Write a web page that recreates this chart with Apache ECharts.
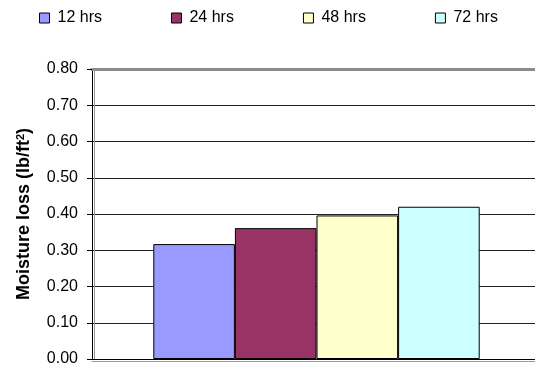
<!DOCTYPE html>
<html><head><meta charset="utf-8">
<script src="https://cdn.jsdelivr.net/npm/echarts@6/dist/echarts.min.js"></script>
<style>html,body{margin:0;padding:0;background:#fff}#c{width:535px;height:372px}</style>
</head><body><div id="c"></div>
<script>
const categories = [''];
const seriesNames = ['12 hrs', '24 hrs', '48 hrs', '72 hrs'];
const seriesValues = [[0.317], [0.361], [0.396], [0.420]];
const seriesColors = ['#9999FF', '#993366', '#FFFFCC', '#CCFFFF'];
const yTicks = ['0.00','0.10','0.20','0.30','0.40','0.50','0.60','0.70','0.80'];

const chart = echarts.init(document.getElementById('c'), null, {renderer: 'canvas'});
const font = '"Liberation Sans", Arial, sans-serif';
chart.setOption({
  animation: false,
  backgroundColor: '#fff',
  textStyle: {fontFamily: font},
  legend: {
    top: 10, left: 39, padding: 0,
    itemGap: 69,
    itemWidth: 10, itemHeight: 10,
    icon: 'rect',
    textStyle: {fontFamily: font, fontSize: 16, color: '#000', padding: [0,0,0,3]},
    data: seriesNames.map(n => ({name: n, itemStyle: {borderColor: '#000', borderWidth: 1}}))
  },
  grid: {left: 92, right: -6, top: 69, bottom: 13, containLabel: false, outerBoundsMode: 'none'},
  xAxis: [{
    type: 'category', data: categories,
    axisLine: {show: true, lineStyle: {color: '#000', width: 1, shadowColor: '#999', shadowOffsetY: 2, shadowBlur: 0}},
    axisTick: {show: false}, axisLabel: {show: false}, splitLine: {show: false}
  }, {
    type: 'category', data: categories, position: 'top',
    axisLine: {show: true, lineStyle: {color: '#8c8c8c', width: 3}},
    axisTick: {show: false}, axisLabel: {show: false}, splitLine: {show: false}
  }],
  yAxis: {
    type: 'value', min: 0, max: 0.8, interval: 0.1,
    axisLine: {show: true, lineStyle: {color: '#000', width: 1, shadowColor: '#999', shadowOffsetX: 2, shadowBlur: 0}},
    axisTick: {show: true, length: 5, lineStyle: {color: '#000'}},
    axisLabel: {fontFamily: font, fontSize: 16, color: '#000', margin: 14,
      formatter: (v) => yTicks[Math.round(v * 10)]},
    splitLine: {show: true, lineStyle: {color: '#222', width: 1}},
    name: 'Moisture loss (lb/ft{sup|2})',
    nameLocation: 'middle', nameGap: 58, nameRotate: 90,
    nameTextStyle: {fontFamily: font, fontSize: 18, fontWeight: 'bold', color: '#000',
      rich: {sup: {fontFamily: font, fontSize: 11, fontWeight: 'bold', color: '#000', verticalAlign: 'top', padding: [0,0,8,0]}}}
  },
  series: seriesNames.map((n, i) => ({
    name: n, type: 'bar', data: seriesValues[i],
    barGap: '0%', barCategoryGap: '27.3%',
    itemStyle: {color: seriesColors[i], borderColor: '#000', borderWidth: 1}
  }))
});
</script></body></html>
